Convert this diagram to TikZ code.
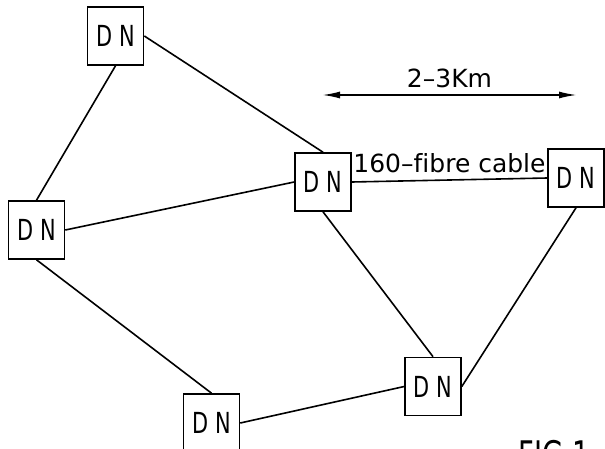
\documentclass[tikz,border=0pt]{standalone}
\usepackage{fontspec}
\setmainfont[Ligatures={TeX,NoCommon}]{DejaVu Sans}
\newfontfamily\narrowfont[FakeStretch=0.72]{DejaVu Sans}
\usepackage{tikz}
\usetikzlibrary{arrows.meta,positioning}
\tikzset{
  dnbox/.style={draw,line width=0.8pt,minimum width=28pt,minimum height=29pt,inner sep=0pt,font=\narrowfont\fontsize{14.5}{16}\selectfont},
  link/.style={line width=0.8pt},
  span/.style={{Latex[length=9pt,width=3.5pt]}-{Latex[length=9pt,width=3.5pt]},line width=0.9pt},
  lbl/.style={font=\fontsize{12.5}{14}\selectfont,inner sep=1pt}
}
\begin{document}
\begin{tikzpicture}[x=0.5pt,y=-0.5pt]
\useasboundingbox (0,0) rectangle (605,449);
\clip (0,0) rectangle (605,449);
\node[dnbox] (dnA) at (115.5,36) {D N};
\node[dnbox] (dnB) at (36.5,230) {D N};
\node[dnbox] (dnC) at (323,182) {D N};
\node[dnbox] (dnD) at (576,178) {D N};
\node[dnbox] (dnE) at (433,386.5) {D N};
\node[dnbox] (dnF) at (211.5,423) {D N};
\draw[link] (dnA.south) -- (dnB.north);
\draw[link] (dnA.east) -- (dnC.north);
\draw[link] (dnB.east) -- (dnC.west);
\draw[link] (dnB.south) -- (dnF.north);
\draw[link] (dnF.east) -- (dnE.west);
\draw[link] (dnC.south) -- (dnE.north);
\draw[link] (dnE.east) -- (dnD.south);
\draw[link] (dnC.east) -- node[lbl,above=2pt] (cable) {160–fibre cable} (dnD.west);
\coordinate (kmL) at (322,95);
\coordinate (kmR) at (577,95);
\draw[span] (kmL) -- node[lbl,above=2pt] (dist) {2–3Km} (kmR);
\node[anchor=north west,inner sep=0pt,font=\narrowfont\fontsize{19}{21}\selectfont] (fig) at (518,440) {FIG 1};
\end{tikzpicture}
\end{document}
